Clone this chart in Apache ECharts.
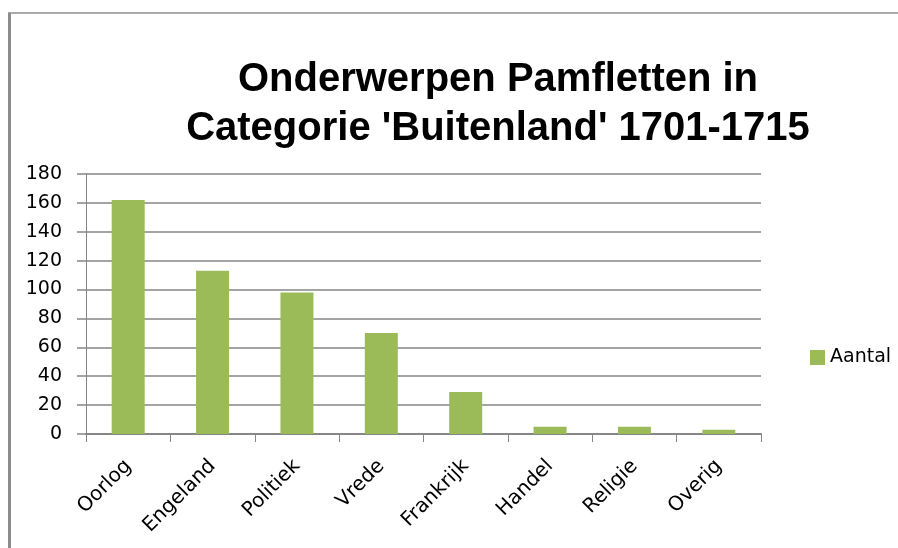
<!DOCTYPE html>
<html>
<head>
<meta charset="utf-8">
<script src="https://cdn.jsdelivr.net/npm/echarts@6/dist/echarts.min.js"></script>
<style>
  html, body { margin: 0; padding: 0; background: #ffffff; }
  #pamfletten { width: 898px; height: 548px; }
</style>
</head>
<body>
<div id="pamfletten"></div>
<script>
// onderwerpen (categorieen) en aantallen
var categories = ["Oorlog", "Engeland", "Politiek", "Vrede", "Frankrijk", "Handel", "Religie", "Overig"];
var aantal = [162, 113, 98, 70, 29, 5, 5, 3];
var seriesName = "Aantal";
var yTicks = [0, 20, 40, 60, 80, 100, 120, 140, 160, 180];

var myChart = echarts.init(document.getElementById("pamfletten"));

var option = {
  backgroundColor: "#ffffff",
  animation: false,
  title: {
    text: "Onderwerpen Pamfletten in\nCategorie 'Buitenland' 1701-1715",
    left: 493,
    top: 50,
    textAlign: "center",
    textStyle: {
      fontFamily: "Liberation Sans",
      fontWeight: "bold",
      fontSize: 40,
      lineHeight: 49,
      color: "#000000"
    }
  },
  legend: {
    data: [seriesName],
    left: 805,
    top: 343,
    itemWidth: 15,
    itemHeight: 15,
    icon: "rect",
    textStyle: {
      fontFamily: "DejaVu Sans",
      fontSize: 19,
      color: "#000000"
    }
  },
  grid: {
    left: 86,
    right: 137,
    top: 174,
    bottom: 114
  },
  xAxis: {
    type: "category",
    data: categories,
    axisLine: {
      show: true,
      lineStyle: { color: "#868686", width: 2 }
    },
    axisTick: {
      show: true,
      length: 8,
      lineStyle: { color: "#868686", width: 1 }
    },
    axisLabel: {
      interval: 0,
      rotate: 45,
      margin: 29,
      fontFamily: "DejaVu Sans",
      fontSize: 20,
      color: "#000000"
    }
  },
  yAxis: {
    type: "value",
    min: yTicks[0],
    max: yTicks[yTicks.length - 1],
    interval: 20,
    axisLine: {
      show: true,
      lineStyle: { color: "#868686", width: 1 }
    },
    axisTick: {
      show: true,
      length: 9,
      lineStyle: { color: "#868686", width: 1.5 }
    },
    axisLabel: {
      margin: 24,
      fontFamily: "DejaVu Sans",
      fontSize: 19,
      color: "#000000"
    },
    splitLine: {
      lineStyle: { color: "#868686", width: 1.5 }
    }
  },
  series: [
    {
      name: seriesName,
      type: "bar",
      data: aantal,
      barWidth: 33,
      itemStyle: { color: "#9BBB59" }
    }
  ],
  graphic: [
    // rand van het kader
    {
      type: "line",
      shape: { x1: 8, y1: 13, x2: 898, y2: 13 },
      style: { stroke: "#8c8c8c", lineWidth: 1.5 }
    },
    {
      type: "line",
      shape: { x1: 9.5, y1: 13, x2: 9.5, y2: 548 },
      style: { stroke: "#8c8c8c", lineWidth: 3 }
    }
  ]
};

myChart.setOption(option);
</script>
</body>
</html>
